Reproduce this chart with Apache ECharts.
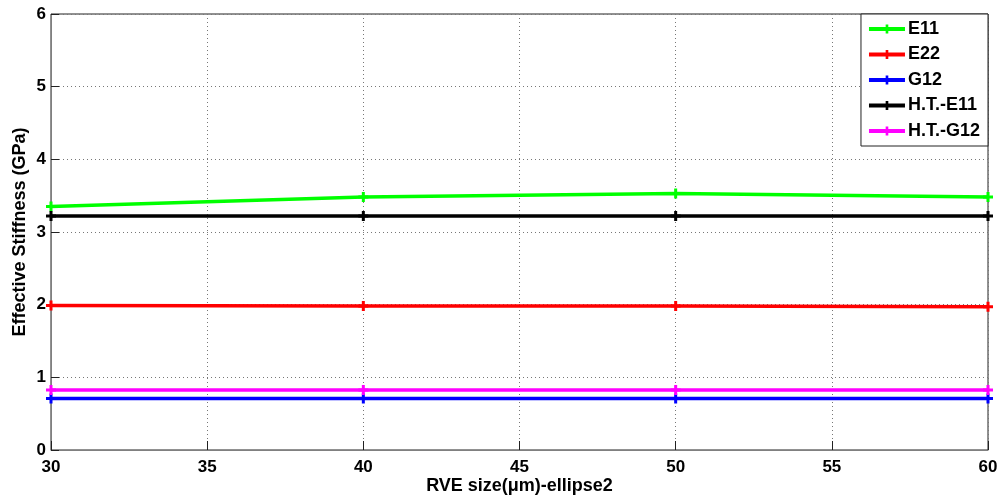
<!DOCTYPE html>
<html>
<head>
<meta charset="utf-8">
<script src="https://cdn.jsdelivr.net/npm/echarts@6/dist/echarts.min.js"></script>
<style>
  html, body { margin: 0; padding: 0; background: #fff; }
  #chart { width: 1001px; height: 497px; }
</style>
</head>
<body>
<div id="chart"></div>
<script>
// Effective stiffness vs RVE size, ellipse2 case
const rveSize = [30, 40, 50, 60];
const e11 = [3.35, 3.48, 3.53, 3.48];
const e22 = [1.99, 1.98, 1.98, 1.97];
const g12 = [0.71, 0.71, 0.71, 0.71];
const htE11 = [3.22, 3.22, 3.22, 3.22];
const htG12 = [0.825, 0.825, 0.825, 0.825];

const seriesNames = ['E11', 'E22', 'G12', 'H.T.-E11', 'H.T.-G12'];
const seriesColors = ['#00ff00', '#ff0000', '#0000ff', '#000000', '#ff00ff'];
const seriesValues = [e11, e22, g12, htE11, htG12];

const FONT = '"Liberation Sans", Arial, sans-serif';
const PLUS = 'path://M3.5,0L6.5,0L6.5,3.5L10,3.5L10,6.5L6.5,6.5L6.5,10L3.5,10L3.5,6.5L0,6.5L0,3.5L3.5,3.5Z';

const chart = echarts.init(document.getElementById('chart'), null, { renderer: 'canvas' });

const gridLine = { show: true, lineStyle: { color: '#777', type: [1, 3], width: 1 } };
const tickLabel = { color: '#000', fontFamily: FONT, fontWeight: 'bold', fontSize: 17 };
const axisName = { color: '#000', fontFamily: FONT, fontWeight: 'bold', fontSize: 18 };

chart.setOption({
  animation: false,
  backgroundColor: '#fff',
  grid: {
    left: 51, right: 13, top: 14, bottom: 47,
    show: true, borderColor: '#222', borderWidth: 1,
    containLabel: false, outerBoundsMode: 'none',
  },
  legend: {
    orient: 'vertical',
    right: 13, top: 14,
    data: seriesNames,
    backgroundColor: '#fff',
    borderColor: '#222', borderWidth: 1, borderRadius: 0,
    padding: [6, 8, 6, 6],
    itemWidth: 36, itemHeight: 11, itemGap: 7.5,
    lineStyle: { width: 4 },
    textStyle: { color: '#000', fontFamily: FONT, fontWeight: 'bold', fontSize: 18, lineHeight: 18, padding: [0, 0, 0, -2] },
  },
  xAxis: {
    type: 'value',
    min: 30, max: 60, interval: 5,
    name: 'RVE size(\u03bcm)-ellipse2',
    nameLocation: 'middle', nameGap: 27, nameMoveOverlap: false,
    nameTextStyle: axisName,
    axisLine: { show: true, lineStyle: { color: '#808080', width: 1 } },
    axisTick: { show: true, inside: true, length: 9, lineStyle: { color: '#222' } },
    axisLabel: Object.assign({ margin: 9 }, tickLabel),
    splitLine: gridLine,
  },
  yAxis: {
    type: 'value',
    min: 0, max: 6, interval: 1,
    name: 'Effective Stiffness (GPa)',
    nameLocation: 'middle', nameGap: 22, nameRotate: 90, nameMoveOverlap: false,
    nameTextStyle: axisName,
    axisLine: { show: true, lineStyle: { color: '#808080', width: 1 } },
    axisTick: { show: true, inside: true, length: 8, lineStyle: { color: '#222' } },
    axisLabel: Object.assign({ margin: 5 }, tickLabel),
    splitLine: gridLine,
  },
  series: seriesNames.map((name, i) => ({
    name,
    type: 'line',
    data: rveSize.map((x, j) => [x, seriesValues[i][j]]),
    symbol: PLUS,
    symbolSize: 10,
    showAllSymbol: true,
    lineStyle: { color: seriesColors[i], width: 3.5 },
    itemStyle: { color: seriesColors[i] },
    z: 5,
  })),
});
</script>
</body>
</html>
